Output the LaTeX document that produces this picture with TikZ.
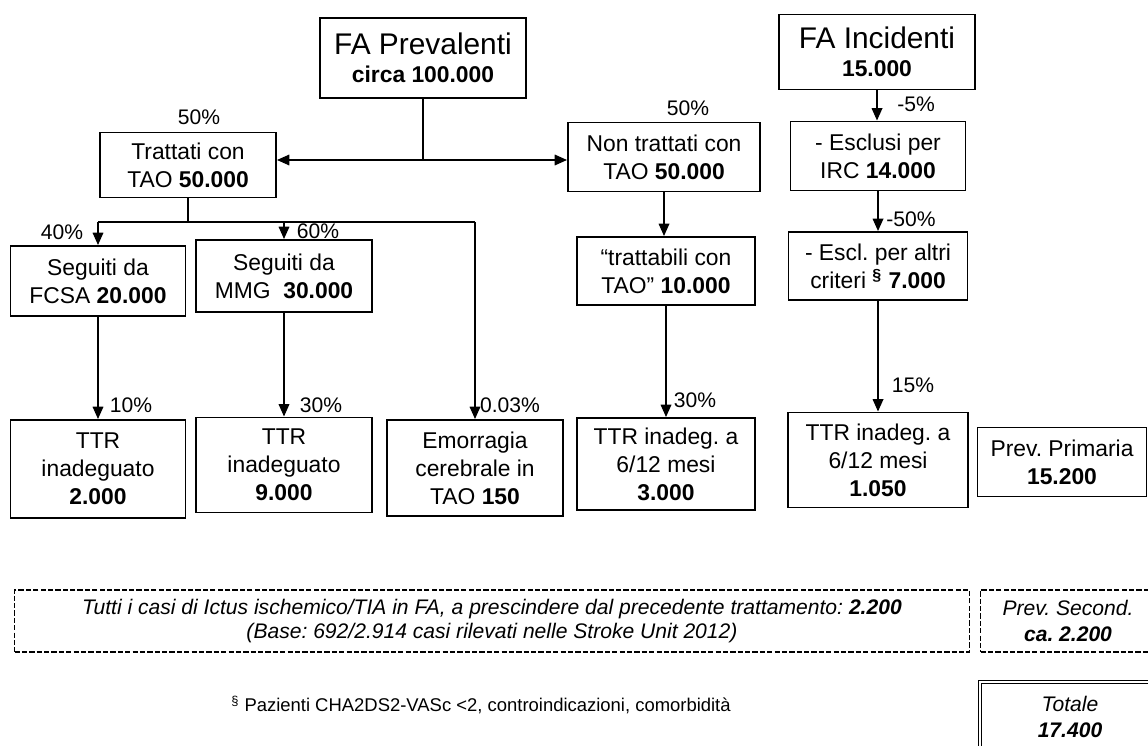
\documentclass[tikz,border=0pt]{standalone}
\usepackage{fontspec}
\setmainfont{Liberation Sans}
\frenchspacing
\usetikzlibrary{arrows.meta, positioning}
\tikzset{
    boxT/.style args={#1 #2}{draw, line width=1.1pt, align=center, inner sep=1pt,
        minimum width=#1*0.02cm, minimum height=#2*0.02cm},
    boxD/.style args={#1 #2}{draw, line width=0.6pt, dash pattern=on 3pt off 1.2pt,
        align=center, inner sep=1pt, minimum width=#1*0.02cm, minimum height=#2*0.02cm},
    pct/.style={inner sep=0pt, font=\fontsize{12}{14}\selectfont},
    lineT/.style={line width=0.9pt},
    arrT/.style={line width=0.9pt, -{Triangle[length=7pt, width=6pt]}}
}

\begin{document}
\begin{tikzpicture}[x=0.02cm, y=-0.02cm]
    \def \tsize {\fontsize{17}{20}\selectfont}
    \tikzstyle{every node}=[font=\fontsize{13}{16}\selectfont];
    \useasboundingbox[fill=white] (0,0) rectangle (1148,746);
    % top row
    \node[boxT={206 80}] (fa1) at (423,58) {{\tsize FA Prevalenti}\\\textbf{circa 100.000}};
    \node[boxT={196 75}] (fa2) at (877,52) {{\tsize FA Incidenti}\\\textbf{15.000}};
    % second row
    \node[boxT={176 65}] (c1) at (188,165) {Trattati con\\TAO \textbf{50.000}};
    \node[boxT={192 69}] (c2) at (664,157) {Non trattati con\\TAO \textbf{50.000}};
    \node[boxT={175 69}] (c3) at (878,156) {- Esclusi per\\IRC \textbf{14.000}};
    % third row
    \node[boxT={175 70}] (d1) at (98,281) {Seguiti da\\FCSA \textbf{20.000}};
    \node[boxT={176 72}] (d2) at (284,276) {Seguiti da\\MMG\ \ \textbf{30.000}};
    \node[boxT={178 68}] (d3) at (666,271) {“trattabili con\\TAO” \textbf{10.000}};
    \node[boxT={179 68}] (d4) at (878,266) {- Escl. per altri\\criteri \textsuperscript{\textbf{\S}} \textbf{7.000}};
    % bottom row
    \node[boxT={175 98}] (e1) at (98,469) {TTR\\inadeguato\\\textbf{2.000}};
    \node[boxT={176 95}] (e2) at (284,465) {TTR\\inadeguato\\\textbf{9.000}};
    \node[boxT={176 96}] (e3) at (475,468) {Emorragia\\cerebrale in\\TAO \textbf{150}};
    \node[boxT={178 92}] (e4) at (666,464) {TTR inadeg. a\\6/12 mesi\\\textbf{3.000}};
    \node[boxT={180 95}] (e5) at (878,460) {TTR inadeg. a\\6/12 mesi\\\textbf{1.050}};
    \node[boxT={169 69}] (e6) at (1062,462) {Prev. Primaria\\\textbf{15.200}};
    % dashed boxes
    \node[boxD={955 62}, font=\fontsize{12}{14}\selectfont] (f1) at (492,621)
        {\textit{Tutti i casi di Ictus ischemico/TIA in FA, a prescindere dal precedente trattamento: \textbf{2.200}}\\
         \textit{(Base: 692/2.914 casi rilevati nelle Stroke Unit 2012)}};
    \node[boxD={175 62}, font=\fontsize{12}{15}\selectfont] (f2) at (1068,621)
        {\textit{Prev. Second.}\\\textbf{\textit{ca. 2.200}}};
    \node[draw, double, double distance=1.2pt, line width=0.5pt, align=center,
        minimum width=180*0.02cm, minimum height=70*0.02cm, font=\fontsize{12}{15}\selectfont] (f3) at (1070,717)
        {\textit{Totale}\\\textbf{\textit{17.400}}};
    \node[font=\fontsize{10.5}{12}\selectfont] (g1) at (481,705)
        {\textsuperscript{\S} Pazienti CHA2DS2-VASc <2, controindicazioni, comorbidità};
    % connectors
    \coordinate (s1) at (423,160);
    \coordinate (s2) at (188,222);
    \draw[lineT] (fa1.south) -- (s1);
    \draw[arrT] (s1) -- (s1 -| c1.east);
    \draw[arrT] (s1) -- (s1 -| c2.west);
    \draw[lineT] (c1.south) -- (s2);
    \draw[lineT] (s2 -| d1.north) -- (s2 -| e3.north);
    \draw[arrT] (s2 -| d1.north) -- (d1.north);
    \draw[arrT] (s2 -| d2.north) -- (d2.north);
    \draw[arrT] (s2 -| e3.north) -- (e3.north);
    \draw[arrT] (d1.south) -- (d1.south |- e1.north);
    \draw[arrT] (d2.south) -- (d2.south |- e2.north);
    \draw[arrT] (c2.south) -- (c2.south |- d3.north);
    \draw[arrT] (d3.south) -- (d3.south |- e4.north);
    \draw[arrT] (fa2.south) -- (fa2.south |- c3.north);
    \draw[arrT] (c3.south) -- (c3.south |- d4.north);
    \draw[arrT] (d4.south) -- (d4.south |- e5.north);
    % percentages
    \node[pct] (l1) at (199,117) {50\%};
    \node[pct] (l2) at (688,108) {50\%};
    \node[pct] (l3) at (62,232) {40\%};
    \node[pct] (l4) at (318,231) {60\%};
    \node[pct] (l5) at (131,405) {10\%};
    \node[pct] (l6) at (321,405) {30\%};
    \node[pct] (l7) at (510,405) {0.03\%};
    \node[pct] (l8) at (695,400) {30\%};
    \node[pct] (l9) at (913,385) {15\%};
    \node[pct] (l10) at (916,104) {-5\%};
    \node[pct] (l11) at (911,219) {-50\%};
\end{tikzpicture}
\end{document}
